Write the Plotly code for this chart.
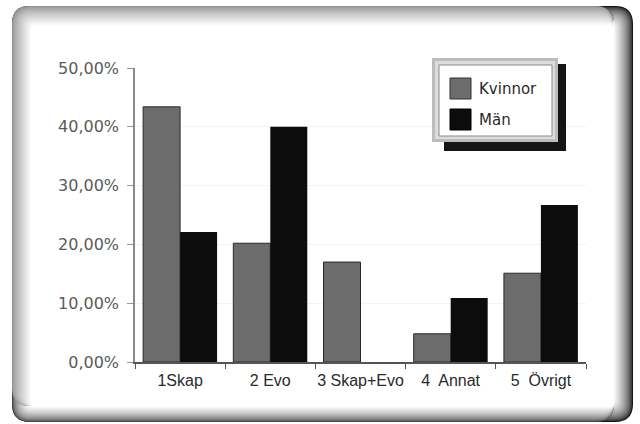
import plotly.graph_objects as go

categories = ["1Skap", "2 Evo", "3 Skap+Evo", "4\u00a0 Annat", "5\u00a0 Övrigt"]
series_names = ["Kvinnor", "Män"]
kvinnor = [43.4, 20.2, 17.0, 4.8, 15.1]
man = [22.1, 40.0, 0.0, 10.9, 26.7]
y_tickvals = [0, 10, 20, 30, 40, 50]
y_ticktext = ["0,00%", "10,00%", "20,00%", "30,00%", "40,00%", "50,00%"]
colors = ["#6c6c6c", "#0c0c0c"]

# layout geometry (pixels)
WIDTH, HEIGHT = 640, 424
ML, MR, MT, MB = 135, 54, 68, 62
PW = WIDTH - ML - MR
PH = HEIGHT - MT - MB


def px(x):
    return (x - ML) / PW


def py(y):
    return (HEIGHT - MB - y) / PH


def rrect(x0, y0, x1, y1, r):
    pts = [
        ("M", [(x0 + r, y0)]),
        ("L", [(x1 - r, y0)]),
        ("Q", [(x1, y0), (x1, y0 + r)]),
        ("L", [(x1, y1 - r)]),
        ("Q", [(x1, y1), (x1 - r, y1)]),
        ("L", [(x0 + r, y1)]),
        ("Q", [(x0, y1), (x0, y1 - r)]),
        ("L", [(x0, y0 + r)]),
        ("Q", [(x0, y0), (x0 + r, y0)]),
    ]
    s = ""
    for cmd, ps in pts:
        s += cmd + " " + " ".join(f"{px(a):.5f},{py(b):.5f}" for a, b in ps) + " "
    return s + "Z"


def gray(v):
    v = int(max(0, min(255, v)))
    return f"rgb({v},{v},{v})"


shapes = []
N = 20
# dark (right) bevel
for i in range(N):
    t = i / (N - 1)
    shapes.append(dict(type="path", xref="paper", yref="paper", layer="below",
                       path=rrect(12 + i, 6 + i, 633 - i, 422 - i, max(3, 18 - i * 0.75)),
                       fillcolor=gray(20 + 235 * (t ** 0.6)), line=dict(width=0)))
# medium (bottom) bevel
for i in range(16):
    t = i / 15
    shapes.append(dict(type="path", xref="paper", yref="paper", layer="below",
                       path=rrect(12 + i, 6 + i, 614, 422 - i, max(3, 18 - i * 0.9)),
                       fillcolor=gray(70 + 185 * (t ** 0.6)), line=dict(width=0)))
# light (top/left) bevel
for i in range(N):
    t = i / (N - 1)
    shapes.append(dict(type="path", xref="paper", yref="paper", layer="below",
                       path=rrect(12 + i, 6 + i, 613, 406, max(3, 18 - i * 0.75)),
                       fillcolor=gray(150 + 105 * (t ** 0.8)), line=dict(width=0)))


def rect(x0, y0, x1, y1, fill, line_color=None, lw=0):
    return dict(type="rect", xref="paper", yref="paper", layer="above",
                x0=px(x0), x1=px(x1), y0=py(y1), y1=py(y0),
                fillcolor=fill, line=dict(color=line_color or fill, width=lw))


# legend box
shapes.append(rect(444, 64, 566, 151, "#151515"))
shapes.append(rect(432, 58, 558, 142, "#bdbdbd"))
shapes.append(rect(435, 61, 555, 139, "#dcdcdc"))
shapes.append(rect(439, 65, 552, 136, "#ffffff", "#8a8a8a", 1))
shapes.append(rect(450, 78, 471, 99, colors[0], "#333333", 1))
shapes.append(rect(450, 109, 471, 130, colors[1], "#000000", 1))

legend_font = dict(family="DejaVu Sans, Liberation Sans", size=15, color="#2a2a2a")
annotations = [
    dict(x=px(477), y=py(89), xref="paper", yref="paper", text=series_names[0],
         showarrow=False, xanchor="left", yanchor="middle", font=legend_font),
    dict(x=px(477), y=py(120), xref="paper", yref="paper", text=series_names[1],
         showarrow=False, xanchor="left", yanchor="middle", font=legend_font),
]

fig = go.Figure()
fig.add_trace(go.Bar(x=categories, y=kvinnor, name=series_names[0],
                     marker=dict(color=colors[0], line=dict(color="#2a2a2a", width=1))))
fig.add_trace(go.Bar(x=categories, y=man, name=series_names[1],
                     marker=dict(color=colors[1], line=dict(width=0))))

fig.update_layout(
    width=WIDTH, height=HEIGHT,
    margin=dict(l=ML, r=MR, t=MT, b=MB, pad=0, autoexpand=False),
    paper_bgcolor="white", plot_bgcolor="rgba(0,0,0,0)",
    barmode="group", bargap=0.18, bargroupgap=0,
    showlegend=False,
    font=dict(family="Liberation Sans, Arial", size=13, color="#3a3a3a"),
    shapes=shapes, annotations=annotations,
    xaxis=dict(showline=True, linecolor="#555555", linewidth=1.5,
               ticks="outside", tickson="boundaries", ticklen=5, tickcolor="#555555",
               showgrid=False, ticklabelstandoff=3, tickangle=0, automargin=False,
               tickfont=dict(family="Liberation Sans, Arial", size=16, color="#2a2a2a")),
    yaxis=dict(range=[0, 50], tickvals=y_tickvals, ticktext=y_ticktext,
               showline=True, linecolor="#888888", linewidth=1.5,
               ticks="outside", ticklen=6, tickcolor="#999999",
               showgrid=True, gridcolor="#f3f3f3", gridwidth=1, zeroline=False,
               ticklabelstandoff=5, automargin=False,
               tickfont=dict(family="DejaVu Sans, Liberation Sans", size=16, color="#5a5a5a")),
)

fig.write_html("out.html", config={"displayModeBar": False},
               post_script="document.body.style.margin='0';document.body.style.overflow='hidden';")
